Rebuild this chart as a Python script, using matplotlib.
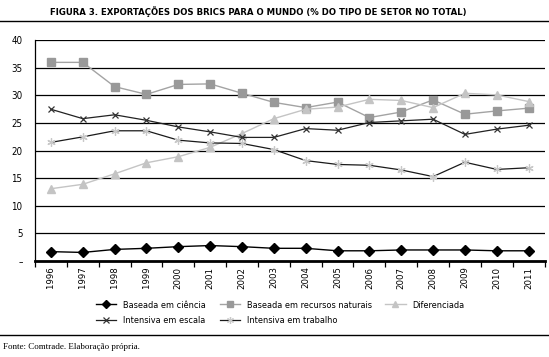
import matplotlib
matplotlib.use("Agg")
import matplotlib.pyplot as plt
from matplotlib.lines import Line2D

years = [str(y) for y in range(1996, 2012)]
ciencia = [1.7, 1.55, 2.1, 2.3, 2.6, 2.8, 2.6, 2.3, 2.3, 1.85, 1.85, 2.0, 2.0, 2.0, 1.85, 1.85]
recursos = [36.0, 36.0, 31.6, 30.2, 32.0, 32.1, 30.4, 28.75, 27.8, 28.8, 26.0, 27.0, 29.2, 26.6, 27.2, 27.7]
diferenciada = [13.1, 13.9, 15.8, 17.8, 18.9, 20.6, 23.1, 25.8, 27.5, 27.9, 29.3, 29.1, 27.8, 30.4, 30.1, 28.9]
escala = [27.5, 25.8, 26.5, 25.5, 24.3, 23.4, 22.4, 22.4, 24.0, 23.7, 25.1, 25.4, 25.7, 22.95, 23.9, 24.6]
trabalho = [21.5, 22.5, 23.6, 23.6, 21.9, 21.4, 21.3, 20.2, 18.2, 17.5, 17.35, 16.5, 15.3, 17.9, 16.6, 16.9]
yticks = [0, 5, 10, 15, 20, 25, 30, 35, 40]
yticklabels = ["–", "5", "10", "15", "20", "25", "30", "35", "40"]

title = "FIGURA 3. EXPORTAÇÕES DOS BRICS PARA O MUNDO (% DO TIPO DE SETOR NO TOTAL)"
source = "Fonte: Comtrade. Elaboração própria."

plt.rcParams["font.family"] = ["DejaVu Sans"]
plt.rcParams["font.stretch"] = "condensed"

fig = plt.figure(figsize=(5.49, 3.57), dpi=100)
ax = fig.add_axes([35 / 549, 1 - 261 / 357, (544.5 - 35) / 549, (261 - 40.3) / 357])

styles = {
    "Baseada em ciência": dict(color="black", lw=1.0, marker="D", mfc="black", mec="black", zorder=5),
    "Baseada em recursos naturais": dict(color="#a3a3a3", lw=1.0, marker="s", mfc="#999999", mec="#999999", zorder=3),
    "Diferenciada": dict(color="#c4c4c4", lw=1.0, marker="^", mfc="#c4c4c4", mec="#c4c4c4", zorder=3),
    "Intensiva em escala": dict(color="#222222", lw=0.9, marker="x", mew=0.9, mec="#333333", zorder=4),
    "Intensiva em trabalho": dict(color="#1a1a1a", lw=0.9, marker=(6, 2, 0), mew=0.9, mec="#c8c8c8", zorder=4),
}
sizes = {"Baseada em ciência": 5, "Baseada em recursos naturais": 6, "Diferenciada": 5.5,
         "Intensiva em escala": 5, "Intensiva em trabalho": 6}
series = {"Baseada em recursos naturais": recursos, "Diferenciada": diferenciada,
          "Intensiva em escala": escala, "Intensiva em trabalho": trabalho,
          "Baseada em ciência": ciencia}

x = list(range(len(years)))
for name, vals in series.items():
    ax.plot(x, vals, ms=sizes[name], label=name, **styles[name])

ax.set_xlim(-0.5, len(years) - 0.5)
ax.set_ylim(0, 40)
ax.set_yticks(yticks)
ax.set_yticklabels(yticklabels, fontsize=7)
ax.tick_params(axis="y", length=0, pad=9)
for v in yticks[1:]:
    ax.axhline(v, color="black", lw=0.9, zorder=1)

ax.set_xticks(x)
ax.set_xticklabels(years, rotation=90, fontsize=6.8)
ax.tick_params(axis="x", length=0, pad=4)
ax.set_xticks([i - 0.5 for i in range(len(years) + 1)], minor=True)
ax.tick_params(axis="x", which="minor", length=4, width=0.9, direction="out", color="black")

for s in ["top", "right"]:
    ax.spines[s].set_visible(False)
ax.spines["left"].set_linewidth(0.9)
ax.spines["bottom"].set_linewidth(2.0)

fig.text(258 / 549, 1 - 12 / 357, title, ha="center", va="center", fontsize=6.8, fontweight="bold")
fig.add_artist(Line2D([0, 1], [1 - 20.5 / 357, 1 - 20.5 / 357], color="black", lw=1.0, transform=fig.transFigure))
fig.add_artist(Line2D([0, 1], [1 - 335 / 357, 1 - 335 / 357], color="black", lw=1.0, transform=fig.transFigure))
fig.text(3 / 549, 1 - 347 / 357, source, ha="left", va="center", fontsize=6.5,
         family=["Liberation Serif", "DejaVu Serif"])

order = ["Baseada em ciência", "Intensiva em escala", "Baseada em recursos naturais",
         "Intensiva em trabalho", "Diferenciada"]
leg_sizes = {"Baseada em ciência": 4.5, "Baseada em recursos naturais": 4.5, "Diferenciada": 4,
             "Intensiva em escala": 5, "Intensiva em trabalho": 5}
handles = [Line2D([], [], ms=leg_sizes[k], **{kk: vv for kk, vv in styles[k].items() if kk != "zorder"})
           for k in order]
fig.legend(handles, order, ncol=3, loc="upper left",
           bbox_to_anchor=(96 / 549, 1 - 300.5 / 357), frameon=False, fontsize=6.6,
           handlelength=2.2, columnspacing=1.5, handletextpad=0.75, labelspacing=0.75,
           borderaxespad=0, borderpad=0)

fig.savefig("out.png", dpi=100)
